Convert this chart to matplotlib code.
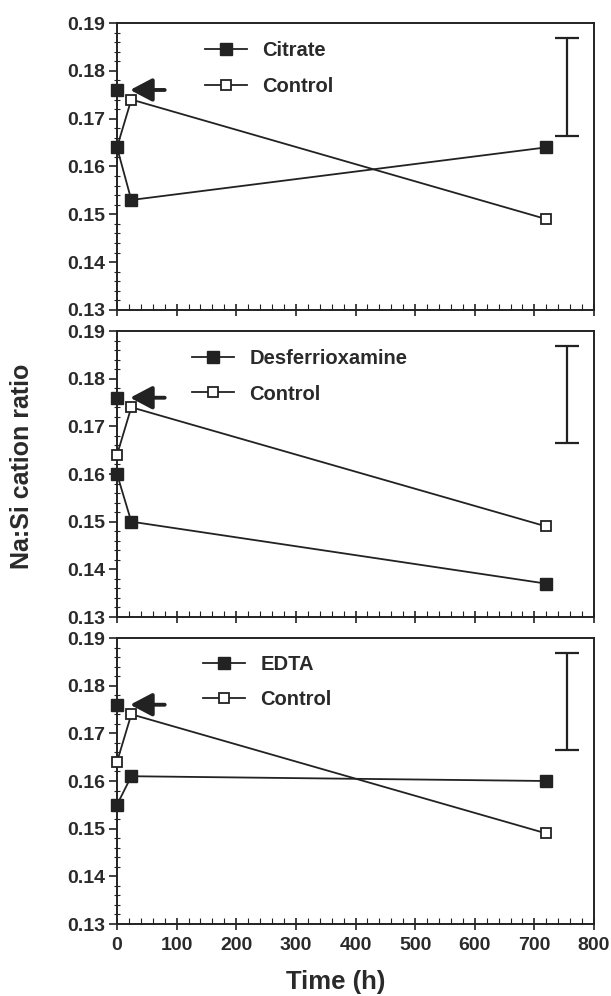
import matplotlib
matplotlib.use("Agg")
import matplotlib.pyplot as plt
from matplotlib.ticker import MultipleLocator, FormatStrFormatter

plt.rcParams['font.family'] = ['Liberation Sans', 'DejaVu Sans']
plt.rcParams['font.weight'] = 'bold'

# ---- data ----
time_h = [0, 24, 720]
control = [0.164, 0.174, 0.149]
treatments = ["Citrate", "Desferrioxamine", "EDTA"]
treatment_values = [
    [0.164, 0.153, 0.164],
    [0.160, 0.150, 0.137],
    [0.155, 0.161, 0.160],
]
initial_time = 0
initial_value = 0.176
errbar_time = 755
errbar_center = 0.1766
errbar_half = 0.0102

x_ticks = [0, 100, 200, 300, 400, 500, 600, 700, 800]
y_ticks = [0.13, 0.14, 0.15, 0.16, 0.17, 0.18, 0.19]

C = '#222222'
TC = '#2a2a2a'
fig = plt.figure(figsize=(6.11, 9.96), dpi=100)
left, width = 117 / 611, 477 / 611
panel_px = [(23, 310), (331, 617), (638, 924)]
legend_pos = [(0.184, 0.937), (0.157, 0.937), (0.180, 0.941)]

axes = []
for i, (top, bot) in enumerate(panel_px):
    ax = fig.add_axes([left, 1 - bot / 996, width, (bot - top) / 996])
    axes.append(ax)
    tv = treatment_values[i]
    # standalone initial point
    ax.plot([initial_time], [initial_value], 's', ms=8.5, color=C, zorder=5,
            clip_on=False)
    h2, = ax.plot(time_h, control, '-s', color=C, lw=1.3, ms=7.5,
                  mfc='white', mec=C, mew=1.3, zorder=3, label="Control",
                  clip_on=False)
    h1, = ax.plot(time_h, tv, '-s', color=C, lw=1.3, ms=8.5,
                  mfc=C, mec=C, zorder=4, label=treatments[i], clip_on=False)
    ax.errorbar([errbar_time], [errbar_center], yerr=[errbar_half], fmt='none',
                ecolor=C, elinewidth=1.6, capsize=8.5, capthick=1.6)
    ax.annotate('', xy=(22, initial_value), xytext=(80, initial_value),
                arrowprops=dict(arrowstyle='-|>,head_width=0.5,head_length=0.95',
                                lw=2.8, color=C, mutation_scale=14,
                                shrinkA=0, shrinkB=0))
    leg = ax.legend(handles=[h1, h2], loc='upper left',
                    bbox_to_anchor=legend_pos[i], frameon=False,
                    borderpad=0, borderaxespad=0, handlelength=2.1,
                    handletextpad=0.75, labelspacing=0.82,
                    prop={'weight': 'bold', 'size': 14.5})
    for t in leg.get_texts():
        t.set_color(TC)
    ax.set_xlim(0, 800)
    ax.set_ylim(0.13, 0.19)
    ax.set_xticks(x_ticks)
    ax.set_yticks(y_ticks)
    ax.xaxis.set_minor_locator(MultipleLocator(20))
    ax.yaxis.set_minor_locator(MultipleLocator(0.002))
    ax.yaxis.set_major_formatter(FormatStrFormatter('%.2f'))
    ax.tick_params(axis='y', which='major', direction='out', length=6,
                   width=1.2, color=C, labelsize=14, labelcolor=TC, pad=2.5)
    ax.tick_params(axis='y', which='minor', direction='inout', length=5,
                   width=0.8, color=C)
    ax.tick_params(axis='x', which='major', direction='inout', length=9,
                   width=1.2, color=C, labelsize=14, labelcolor=TC, pad=5)
    ax.tick_params(axis='x', which='minor', direction='in', length=4,
                   width=0.8, color=C)
    for lab in ax.get_xticklabels() + ax.get_yticklabels():
        lab.set_fontweight('bold')
    for s in ax.spines.values():
        s.set_linewidth(1.4)
        s.set_color(C)
    if i < 2:
        ax.tick_params(axis='x', labelbottom=False)

fig.text(336 / 611, 1 - 982 / 996, 'Time (h)', ha='center', va='center',
         fontsize=18.5, fontweight='bold', color=TC)
fig.text(22 / 611, 1 - 466 / 996, 'Na:Si cation ratio', rotation=90,
         ha='center', va='center', fontsize=18, fontweight='bold', color=TC)

fig.savefig('out.png', dpi=100)
